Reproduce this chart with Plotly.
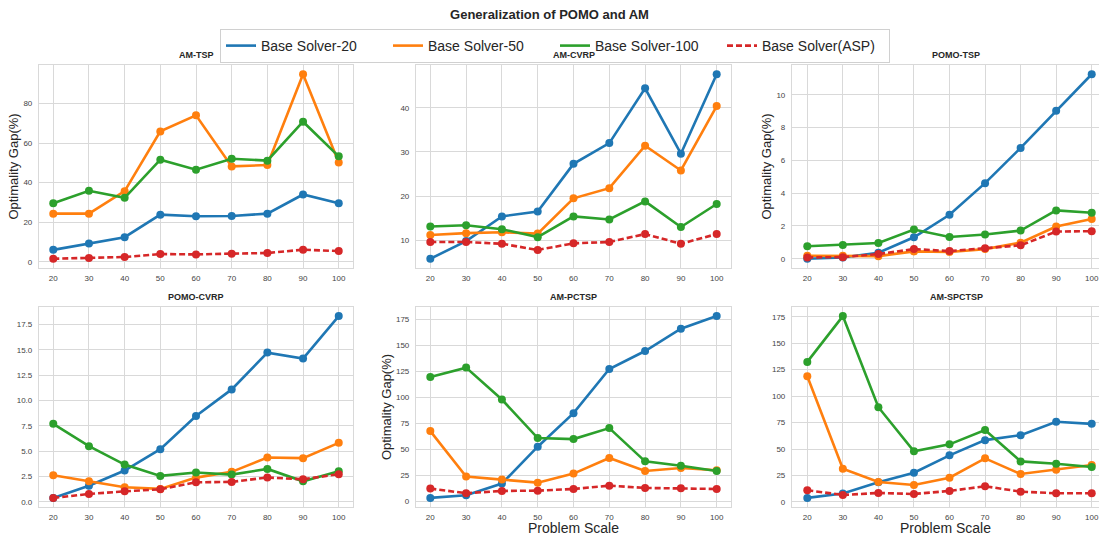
import plotly.graph_objects as go

# Problem scales evaluated for every model/problem pair
scales = [20, 30, 40, 50, 60, 70, 80, 90, 100]

series_names = ["Base Solver-20", "Base Solver-50", "Base Solver-100", "Base Solver(ASP)"]
series_colors = ["#1f77b4", "#ff7f0e", "#2ca02c", "#d62728"]

panel_titles = ["AM-TSP", "AM-CVRP", "POMO-TSP", "POMO-CVRP", "AM-PCTSP", "AM-SPCTSP"]

# Optimality gap (%) per panel, one list per solver
am_tsp_20 = [6.0, 9.2, 12.4, 23.8, 23.0, 23.1, 24.3, 34.0, 29.6]
am_tsp_50 = [24.3, 24.3, 35.7, 65.9, 74.0, 48.2, 48.9, 94.8, 50.2]
am_tsp_100 = [29.6, 35.9, 32.3, 51.6, 46.5, 52.1, 51.1, 70.8, 53.3]
am_tsp_asp = [1.5, 1.9, 2.4, 3.9, 3.7, 4.1, 4.4, 6.1, 5.4]

am_cvrp_20 = [5.8, 9.8, 15.4, 16.5, 27.3, 32.0, 44.4, 29.6, 47.6]
am_cvrp_50 = [11.2, 11.6, 11.8, 11.5, 19.5, 21.8, 31.4, 25.8, 40.4]
am_cvrp_100 = [13.1, 13.4, 12.5, 10.7, 15.4, 14.7, 18.8, 13.0, 18.2]
am_cvrp_asp = [9.6, 9.6, 9.2, 7.8, 9.3, 9.6, 11.4, 9.2, 11.4]

pomo_tsp_20 = [0.0, 0.08, 0.37, 1.31, 2.68, 4.61, 6.76, 9.02, 11.25]
pomo_tsp_50 = [0.18, 0.18, 0.16, 0.45, 0.41, 0.59, 0.98, 1.97, 2.42]
pomo_tsp_100 = [0.76, 0.84, 0.96, 1.78, 1.33, 1.48, 1.72, 2.95, 2.81]
pomo_tsp_asp = [0.08, 0.10, 0.29, 0.59, 0.47, 0.64, 0.82, 1.66, 1.68]

pomo_cvrp_20 = [0.4, 1.6, 3.1, 5.2, 8.47, 11.1, 14.73, 14.14, 18.33]
pomo_cvrp_50 = [2.64, 2.04, 1.45, 1.29, 2.4, 2.97, 4.38, 4.32, 5.83]
pomo_cvrp_100 = [7.71, 5.5, 3.69, 2.57, 2.9, 2.7, 3.26, 2.04, 3.03]
pomo_cvrp_asp = [0.4, 0.79, 1.05, 1.25, 1.94, 1.98, 2.41, 2.24, 2.74]

am_pctsp_20 = [3.2, 5.8, 17.0, 52.5, 84.8, 127.3, 144.6, 166.0, 178.2]
am_pctsp_50 = [67.5, 23.7, 20.8, 17.9, 26.6, 41.6, 29.1, 32.0, 29.8]
am_pctsp_100 = [119.6, 128.6, 97.9, 60.8, 59.8, 70.4, 38.4, 34.2, 29.1]
am_pctsp_asp = [12.2, 7.7, 9.9, 10.2, 11.8, 15.0, 12.8, 12.5, 11.8]

am_spctsp_20 = [3.8, 7.9, 18.5, 27.6, 44.0, 58.4, 63.1, 75.7, 73.8]
am_spctsp_50 = [118.8, 31.4, 18.9, 16.0, 22.9, 41.2, 26.4, 30.5, 34.9]
am_spctsp_100 = [132.3, 175.6, 89.5, 47.8, 54.4, 67.9, 38.3, 36.1, 33.0]
am_spctsp_asp = [11.0, 6.6, 8.5, 7.5, 10.4, 14.8, 9.7, 8.2, 8.2]

panels = [
    [am_tsp_20, am_tsp_50, am_tsp_100, am_tsp_asp],
    [am_cvrp_20, am_cvrp_50, am_cvrp_100, am_cvrp_asp],
    [pomo_tsp_20, pomo_tsp_50, pomo_tsp_100, pomo_tsp_asp],
    [pomo_cvrp_20, pomo_cvrp_50, pomo_cvrp_100, pomo_cvrp_asp],
    [am_pctsp_20, am_pctsp_50, am_pctsp_100, am_pctsp_asp],
    [am_spctsp_20, am_spctsp_50, am_spctsp_100, am_spctsp_asp],
]

W, H = 1099, 536
FONT = "Liberation Sans, Arial, sans-serif"
GRID = "#d9d9d9"

# Panel boxes in pixels: (left, right, top, bottom)
col_px = [(39, 353), (416, 731), (792, 1099)]
row_px = [(65, 268), (307, 507)]
x_ranges = [[16, 104], [16, 104], [15.7, 102.05]]
y_dticks = [20, 10, 2, 2.5, 25, 25]
y_formats = ["d", "d", "d", ".1f", "d", "d"]
y_titled = [0, 2, 4]
x_titled = [4, 5]

fig = go.Figure()
annotations = []

for i, data in enumerate(panels):
    r, c = divmod(i, 3)
    left, right = col_px[c]
    top, bottom = row_px[r]
    xa = "x" if i == 0 else f"x{i + 1}"
    ya = "y" if i == 0 else f"y{i + 1}"

    for name, color, vals in zip(series_names, series_colors, data):
        fig.add_trace(go.Scatter(
            x=scales, y=vals, mode="lines+markers", name=name,
            xaxis=xa, yaxis=ya, showlegend=False,
            line=dict(color=color, width=2.6,
                      dash="6px,3px" if "ASP" in name else "solid"),
            marker=dict(color=color, size=8),
        ))

    lo = min(min(v) for v in data)
    hi = max(max(v) for v in data)
    pad = 0.05 * (hi - lo)

    axis_common = dict(
        showgrid=True, gridcolor=GRID, gridwidth=1, zeroline=False,
        showline=True, linecolor=GRID, linewidth=1.2, mirror=True,
        ticks="", tickfont=dict(family=FONT, size=8, color="#444444"),
    )
    fig.update_layout({
        f"xaxis{'' if i == 0 else i + 1}": dict(
            domain=[left / W, right / W], anchor=ya,
            range=x_ranges[c], tickmode="array", tickvals=scales,
            ticklabelstandoff=2,
            title=dict(text="Problem Scale" if i in x_titled else "",
                       font=dict(family=FONT, size=14, color="#262626"),
                       standoff=0),
            **axis_common,
        ),
        f"yaxis{'' if i == 0 else i + 1}": dict(
            domain=[1 - bottom / H, 1 - top / H], anchor=xa,
            range=[lo - pad, hi + pad], dtick=y_dticks[i], tick0=0,
            tickformat=y_formats[i], ticklabelstandoff=4,
            title=dict(text="Optimality Gap(%)" if i in y_titled else "",
                       font=dict(family=FONT, size=13, color="#262626"),
                       standoff=1),
            **axis_common,
        ),
    })

    # panel title centred over the full (unclipped) panel width
    centre = (left + right) / 2 if c < 2 else left + (353 - 39) / 2 + 7
    annotations.append(dict(
        text=f"<b>{panel_titles[i]}</b>", xref="paper", yref="paper",
        x=centre / W, y=1 - (top - 3) / H, xanchor="center", yanchor="bottom",
        showarrow=False, font=dict(family=FONT, size=9, color="#262626"),
    ))

# Legend entries drawn as plain line samples
for name, color in zip(series_names, series_colors):
    fig.add_trace(go.Scatter(
        x=[None], y=[None], mode="lines", name=name,
        line=dict(color=color, width=2.6,
                  dash="6px,3px" if "ASP" in name else "solid"),
    ))

fig.update_layout(
    width=W, height=H,
    margin=dict(l=0, r=0, t=0, b=0),
    paper_bgcolor="white", plot_bgcolor="white",
    title=dict(text="<b>Generalization of POMO and AM</b>",
               x=0.5, xanchor="center", y=1 - 14 / H, yanchor="middle",
               font=dict(family=FONT, size=13, color="#262626")),
    legend=dict(orientation="h", x=555 / W, xanchor="center",
                y=1 - 29 / H, yanchor="top",
                bordercolor="#d0d0d0", borderwidth=1, bgcolor="white",
                font=dict(family=FONT, size=14, color="#262626"),
                entrywidth=122, itemwidth=30, tracegroupgap=0),
    annotations=annotations,
    showlegend=True,
)

fig.write_html("out.html")
